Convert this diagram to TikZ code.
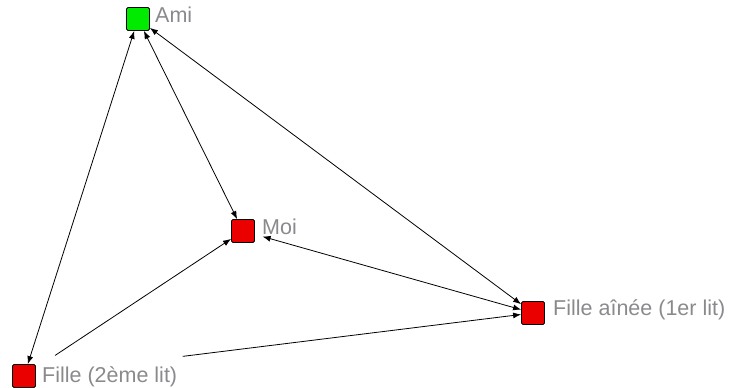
\documentclass[tikz,border=0pt]{standalone}
\usepackage{fontspec}
\setmainfont{Liberation Sans}
\usetikzlibrary{arrows.meta}
\definecolor{sqgreen}{RGB}{0,235,0}
\definecolor{sqred}{RGB}{235,0,0}
\definecolor{labgray}{RGB}{138,138,142}
\tikzset{
  sq/.style={draw=black, line width=0.8pt, rounded corners=1.5pt, minimum size=23pt, inner sep=0pt},
  lab/.style={anchor=base west, inner sep=0pt, text=labgray, font=\fontsize{21.5}{24}\selectfont},
  link/.style={line width=0.8pt, black, {Latex[length=8pt,width=6pt]}-{Latex[length=8pt,width=6pt]}},
  onelink/.style={line width=0.8pt, black, -{Latex[length=8pt,width=6pt]}}
}
\begin{document}
\begin{tikzpicture}[x=1pt,y=-1pt]
\useasboundingbox (0,0) rectangle (731,388);
\node[sq, fill=sqgreen] (ami) at (138,19) {};
\node[sq, fill=sqred] (moi) at (243,231) {};
\node[sq, fill=sqred] (f1) at (533,313) {};
\node[sq, fill=sqred] (f2) at (24,376) {};
\node[lab] (lami) at (155,22) {Ami};
\node[lab] (lmoi) at (262,234) {Moi};
\node[lab] (lf1) at (553,315) {Fille aînée (1er lit)};
\node[lab] (lf2) at (42,382) {Fille (2ème lit)};
\draw[link] (ami) -- (f2);
\draw[link] (ami) -- (moi);
\draw[link] (ami) -- (f1);
\draw[link, shorten <=8pt] (moi) -- (f1);
\draw[onelink, shorten <=23pt] (f2) -- (moi);
\draw[onelink, shorten <=148pt] (f2) -- (f1);
\end{tikzpicture}
\end{document}
